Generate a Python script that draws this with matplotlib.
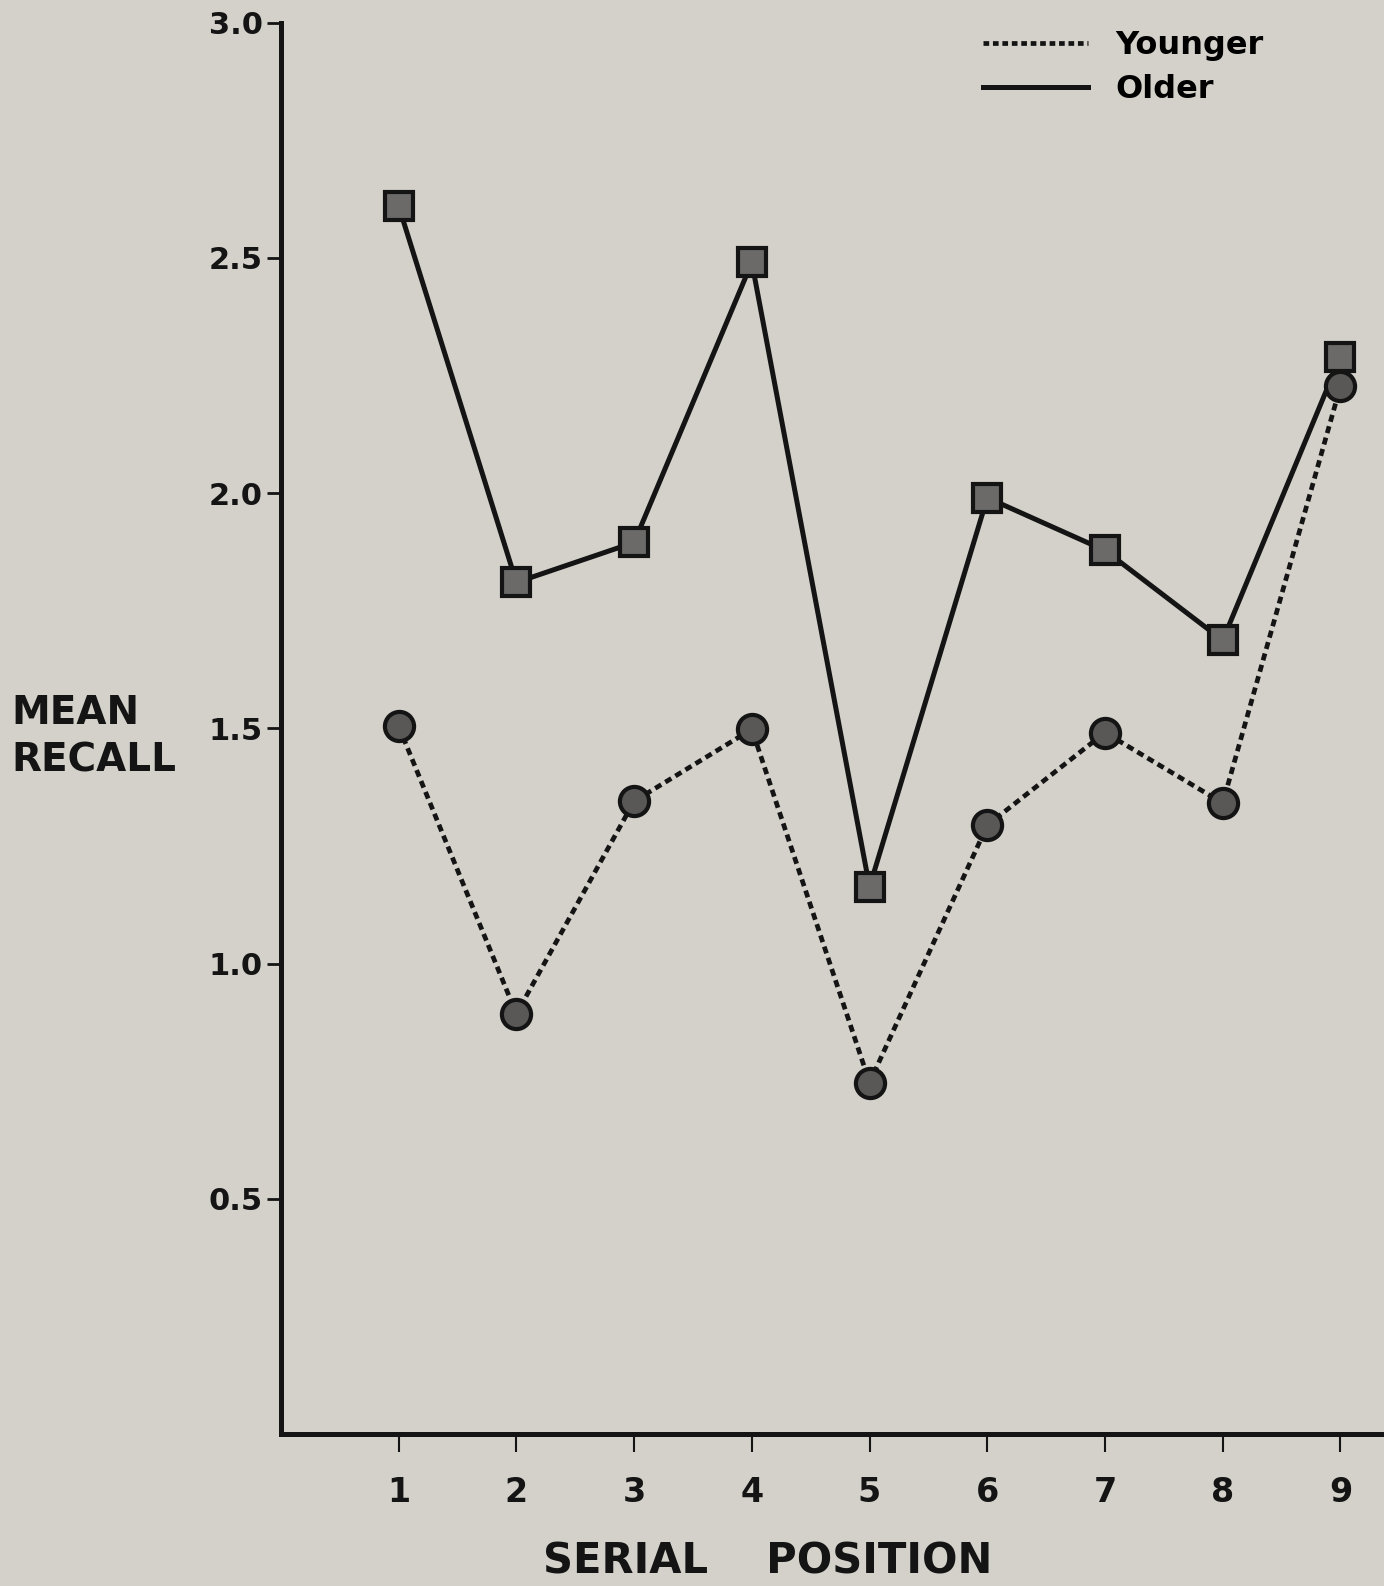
import matplotlib
matplotlib.use("Agg")
import matplotlib.pyplot as plt
from matplotlib.lines import Line2D

# values
positions = [1, 2, 3, 4, 5, 6, 7, 8, 9]
older = [2.61, 1.81, 1.895, 2.49, 1.163, 1.99, 1.878, 1.687, 2.29]
younger = [1.504, 0.893, 1.345, 1.498, 0.747, 1.294, 1.491, 1.341, 2.227]
y_ticks = [0.5, 1.0, 1.5, 2.0, 2.5, 3.0]
y_ticklabels = ["0.5", "1.0", "1.5", "2.0", "2.5", "3.0"]

BG = "#d4d1ca"
INK = "#141414"


def main():
    plt.rcParams["font.family"] = ["DejaVu Sans"]
    plt.rcParams["font.weight"] = "bold"

    fig = plt.figure(figsize=(13.84, 15.86), dpi=100, facecolor=BG)
    ax = fig.add_axes([0.203, 0.0958, 0.797, 0.890])
    ax.set_facecolor(BG)

    ax.plot(positions, older, color=INK, lw=3.6, ls="-",
            marker="s", ms=20, mfc="#6c6a68", mec=INK, mew=3, zorder=3)
    ax.plot(positions, younger, color=INK, lw=3.4, dashes=(1.5, 1.0),
            marker="o", ms=21, mfc="#5a5856", mec=INK, mew=3, zorder=3)

    ax.set_xlim(0, 9.37)
    ax.set_ylim(0, 3.0)

    for side in ["top", "right"]:
        ax.spines[side].set_visible(False)
    for side in ["left", "bottom"]:
        ax.spines[side].set_linewidth(3.6)
        ax.spines[side].set_color(INK)

    ax.set_xticks(positions)
    ax.set_xticklabels([str(p) for p in positions])
    ax.set_yticks(y_ticks)
    ax.set_yticklabels(y_ticklabels)
    ax.tick_params(axis="x", direction="out", length=13, width=1.5,
                   pad=17, labelsize=24, colors=INK)
    ax.tick_params(axis="y", direction="out", length=10, width=2,
                   pad=3, labelsize=22, colors=INK)

    fig.text(0.555, 0.0155, "SERIAL    POSITION", ha="center",
             va="center", fontsize=30, color=INK)
    fig.text(0.008, 0.5505, "MEAN", ha="left", va="center",
             fontsize=28, color=INK)
    fig.text(0.008, 0.5205, "RECALL", ha="left", va="center",
             fontsize=28, color=INK)

    handles = [
        Line2D([], [], color=INK, lw=3.4, dashes=(1.2, 0.8)),
        Line2D([], [], color=INK, lw=3.6, ls="-"),
    ]
    ax.legend(handles, ["Younger", "Older"], loc="upper left",
              bbox_to_anchor=(0.694, 0.995), bbox_transform=fig.transFigure,
              frameon=False, fontsize=23, handlelength=3.3,
              handletextpad=0.85, labelspacing=0.4, borderpad=0.2)

    fig.savefig("out.png", dpi=100, facecolor=BG)


if __name__ == "__main__":
    main()
